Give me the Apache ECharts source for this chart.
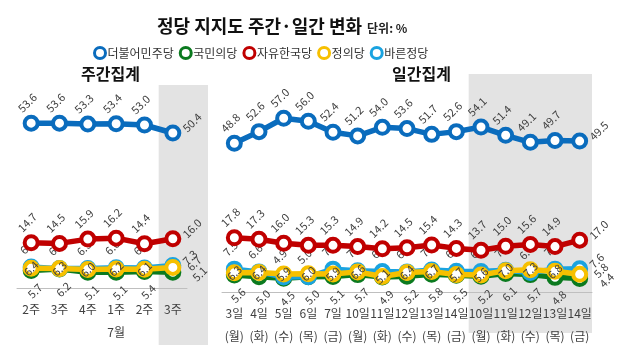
<!DOCTYPE html>
<html>
<head>
<meta charset="utf-8">
<script src="https://cdn.jsdelivr.net/npm/echarts@6/dist/echarts.min.js"></script>
<style>
  html, body { margin: 0; padding: 0; background: #fff; }
  #chart { width: 634px; height: 352px; }
</style>
</head>
<body>
<div id="chart"></div>
<script>
// 주간 / 일간 축 라벨
const weekLabels = ['2주', '3주', '4주', '1주', '2주', '3주']
const weekMonth = '7월'
const dayLabels = ['3일', '4일', '5일', '6일', '7일', '10일', '11일', '12일', '13일', '14일', '10일', '11일', '12일', '13일', '14일']
const dayWeekdays = ['(월)', '(화)', '(수)', '(목)', '(금)', '(월)', '(화)', '(수)', '(목)', '(금)', '(월)', '(화)', '(수)', '(목)', '(금)']

const partyNames = ['더불어민주당', '국민의당', '자유한국당', '정의당', '바른정당']
const partyColors = ['#0a6cbd', '#0b7a1f', '#c00000', '#f7c000', '#1aa3e0']

// 주간집계
const weekMinjoo = [53.6, 53.6, 53.3, 53.4, 53.0, 50.4]
const weekKookmin = [5.7, 6.2, 5.1, 5.1, 5.4, 5.1]
const weekHanguk = [14.7, 14.5, 15.9, 16.2, 14.4, 16.0]
const weekJeongui = [6.4, 6.3, 6.0, 6.2, 6.1, 6.7]
const weekBareun = [6.8, 6.3, 6.3, 6.6, 6.5, 7.3]

// 일간집계
const dayMinjoo = [48.8, 52.6, 57.0, 56.0, 52.4, 51.2, 54.0, 53.6, 51.7, 52.6, 54.1, 51.4, 49.1, 49.7, 49.5]
const dayKookmin = [5.6, 5.0, 4.5, 5.0, 5.1, 5.7, 4.9, 5.2, 5.8, 5.5, 5.2, 6.1, 5.7, 4.8, 4.4]
const dayHanguk = [17.8, 17.3, 16.0, 15.3, 15.3, 14.9, 14.2, 14.5, 15.4, 14.3, 13.7, 15.0, 15.6, 14.9, 17.0]
const dayJeongui = [6.3, 6.4, 5.9, 6.0, 5.9, 6.6, 5.1, 6.4, 6.7, 5.7, 5.6, 7.0, 7.3, 6.8, 5.8]
const dayBareun = [7.5, 6.6, 4.9, 5.0, 7.5, 7.0, 6.7, 6.6, 7.2, 6.8, 6.7, 7.1, 6.4, 7.5, 7.6]

const weekData = [weekMinjoo, weekKookmin, weekHanguk, weekJeongui, weekBareun]
const dayData = [dayMinjoo, dayKookmin, dayHanguk, dayJeongui, dayBareun]

const FONT = '"Noto Sans CJK KR", "Noto Sans", sans-serif'

// 라벨 위치: 민주/한국/바른 위, 국민 아래, 정의 가운데
const labelPos = ['top', 'bottom', 'top', 'inside', 'top']
const zOrder = [5, 2, 4, 4, 3]

function makeSeries(values, idx, axisIdx) {
  const last = values.length - 1
  return {
    name: partyNames[idx],
    type: 'line',
    xAxisIndex: axisIdx,
    yAxisIndex: axisIdx,
    z: zOrder[idx],
    symbol: 'circle',
    symbolSize: 13,
    lineStyle: { width: 5.5, color: partyColors[idx] },
    itemStyle: { color: '#fff', borderColor: partyColors[idx], borderWidth: 4 },
    label: {
      show: true,
      position: labelPos[idx],
      distance: idx === 3 ? 0 : 8,
      rotate: 45,
      fontSize: 11,
      fontFamily: FONT,
      color: '#404040',
      formatter: p => p.value.toFixed(1)
    },
    emphasis: { disabled: true },
    data: values.map((v, i) => i === last
      ? { value: v, label: { position: 'right', distance: 6, offset: [0, idx === 3 ? 2 : idx === 1 ? 10 : -4] } }
      : v)
  }
}

const series = []
weekData.forEach((vals, i) => series.push(makeSeries(vals, i, 0)))
dayData.forEach((vals, i) => series.push(makeSeries(vals, i, 1)))

const axisLabelBase = {
  interval: 0,
  fontSize: 12,
  fontFamily: FONT,
  color: '#404040',
  margin: 10,
  lineHeight: 23
}

const myChart = echarts.init(document.getElementById('chart'))

const option = {
  animation: false,
  title: [
    {
      text: '{a|정당 지지도 주간·일간 변화} {b|단위: %}',
      left: 152,
      top: 12,
      textStyle: {
        rich: {
          a: { fontSize: 18, fontWeight: 'bold', color: '#111', fontFamily: FONT },
          b: { fontSize: 12, color: '#222', fontFamily: FONT, padding: [4, 0, 0, 0] }
        }
      }
    },
    {
      text: '주간집계',
      left: 76,
      top: 61,
      textStyle: { fontSize: 16, fontWeight: 'bold', color: '#111', fontFamily: FONT }
    },
    {
      text: '일간집계',
      left: 387,
      top: 61,
      textStyle: { fontSize: 16, fontWeight: 'bold', color: '#111', fontFamily: FONT }
    }
  ],
  legend: {
    data: partyNames,
    left: 88,
    top: 41,
    icon: 'circle',
    itemWidth: 11,
    itemHeight: 11,
    itemGap: 5,
    itemStyle: { color: '#fff', borderWidth: 3 },
    textStyle: { fontSize: 12, fontFamily: FONT, color: '#333', padding: [0, 0, 0, -3] }
  },
  grid: [
    { left: 17, width: 170, top: 85, bottom: 64 },
    { left: 222, right: 42, top: 74, bottom: 60 }
  ],
  xAxis: [
    {
      type: 'category',
      gridIndex: 0,
      data: weekLabels,
      axisLine: { lineStyle: { color: '#bfbfbf' } },
      axisTick: { length: 6, lineStyle: { color: '#bfbfbf' } },
      axisLabel: Object.assign({}, axisLabelBase, {
        formatter: (v, i) => i === 3 ? v + '\n' + weekMonth : v
      })
    },
    {
      type: 'category',
      gridIndex: 1,
      data: dayLabels,
      axisLine: { lineStyle: { color: '#bfbfbf' } },
      axisTick: { length: 6, lineStyle: { color: '#bfbfbf' } },
      axisLabel: Object.assign({}, axisLabelBase, {
        formatter: (v, i) => v + '\n' + dayWeekdays[i]
      })
    }
  ],
  yAxis: [
    { type: 'value', gridIndex: 0, min: 0, max: 66, show: false },
    { type: 'value', gridIndex: 1, min: 0, max: 71.5, show: false }
  ],
  series: series
}

myChart.setOption(option)

// 마지막 주 회색 음영: 축 눈금 위치에서 계산
function bandStart(axisIdx, catIdx, count) {
  const c = myChart.convertToPixel({ gridIndex: axisIdx }, [catIdx, 0])
  const n = myChart.convertToPixel({ gridIndex: axisIdx }, [catIdx + 1 < count ? catIdx + 1 : catIdx - 1, 0])
  const bw = Math.abs(n[0] - c[0])
  return c[0] - bw / 2
}
const wx = bandStart(0, weekLabels.length - 1, weekLabels.length)
const dx = bandStart(1, 10, dayLabels.length)
myChart.setOption({
  graphic: [
    { type: 'rect', z: -10, silent: true, shape: { x: wx, y: 85, width: 208 - wx, height: 260 }, style: { fill: '#e3e3e3' } },
    { type: 'rect', z: -10, silent: true, shape: { x: dx, y: 74, width: 592 - dx, height: 259 }, style: { fill: '#e3e3e3' } }
  ]
})
</script>
</body>
</html>
